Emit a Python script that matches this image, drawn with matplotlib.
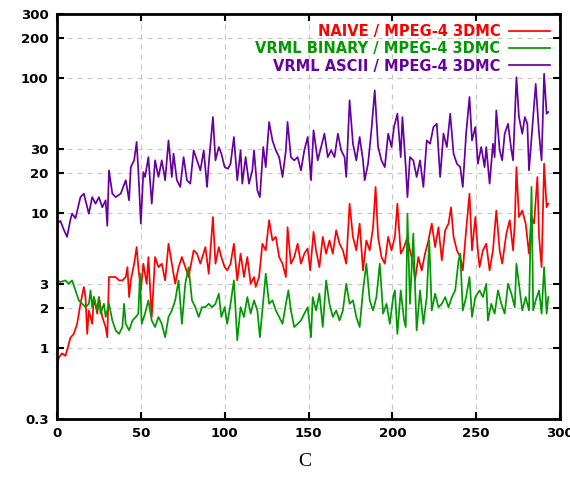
import numpy as np
import matplotlib.pyplot as plt
from matplotlib.ticker import FixedLocator, NullLocator

# ratios (log scale)
naive_x = [0, 1, 3, 5, 6, 8, 10, 12, 14, 16, 17, 18, 19, 21, 22, 24, 25, 27, 29, 30, 31,
           33, 35, 37, 39, 41, 42, 43, 44, 46, 47.5, 48.5, 50, 51.5, 53.5, 54.5, 56.5,
           58.5, 60.5, 62.5, 64.5, 66.5, 68.5, 70.5, 72.5, 74.5, 76.5, 78.5, 81.5,
           83.5, 85.5, 88.5, 90.5, 93, 94.5, 96.5, 98, 100, 101.5, 103.5, 105.5, 107.5,
           109.5, 111.5, 113.5, 115.5, 117.5, 118.5, 120.5, 122.5, 124.5, 126.5, 128.5,
           130.5, 132.5, 134.5, 136.5, 137.5, 139.5, 141.5, 143.5, 145.5, 147.5, 149.5,
           151, 153, 154.5, 156.5, 158.5, 160.5, 162.5, 164.5, 166.5, 168.5, 170.5,
           172.5, 174.5, 176.5, 178.5, 180.5, 182.5, 184.5, 186.5, 188.5, 190, 191.5,
           193.5, 195.5, 197.5, 199.5, 201.5, 203, 205, 207, 209, 210.5, 212.5, 213.5,
           215.5, 217.5, 219.5, 221.5, 223.5, 225.5, 227.5, 229.5, 231.5, 233.5, 235,
           236.5, 238.5, 240.5, 242, 244, 246, 247.5, 249.5, 251, 252, 254, 256, 258,
           260, 262, 264, 265.5, 268, 270, 272, 273, 274, 275.5, 277.5, 279.5, 281.5,
           283, 284.5, 286.5, 287.5, 289, 290.5, 292, 293]
naive_y = [0.72, 0.85, 0.92, 0.88, 0.97, 1.2, 1.28, 1.52, 2.14, 2.85, 2.4, 1.28, 1.91,
           1.52, 2.4, 1.81, 2.4, 1.71, 1.44, 1.21, 3.38, 3.38, 3.38, 3.19, 3.19, 3.38,
           4.0, 2.4, 3.19, 4.24, 5.63, 4.0, 2.69, 4.24, 3.01, 4.75, 1.71, 4.75, 4.0,
           4.24, 3.19, 5.96, 4.24, 3.01, 4.0, 4.75, 4.0, 3.38, 5.32, 5.03, 4.24, 5.63,
           3.57, 9.4, 4.24, 5.63, 4.75, 4.0, 3.78, 4.24, 5.96, 3.19, 5.03, 3.38, 4.75,
           3.01, 3.38, 2.85, 3.38, 5.96, 5.32, 8.9, 6.3, 6.7, 4.75, 4.24, 3.38, 7.9,
           4.24, 4.75, 5.96, 4.24, 5.03, 5.5, 3.78, 7.3, 5.32, 4.0, 6.7, 5.03, 6.3, 5.03,
           7.5, 5.96, 5.32, 4.24, 11.8, 6.7, 5.32, 8.4, 3.78, 6.3, 5.32, 7.9, 15.7, 6.7,
           4.75, 4.24, 6.7, 5.32, 6.7, 11.8, 5.03, 5.63, 6.7, 5.32, 4.24, 3.19, 4.75,
           3.78, 5.03, 6.3, 8.4, 5.63, 7.9, 4.49, 7.5, 8.4, 11.1, 6.7, 5.32, 4.75, 3.78,
           7.5, 14.0, 5.32, 9.4, 5.32, 4.0, 5.32, 5.96, 3.78, 5.32, 10.5, 5.32, 4.24,
           7.1, 8.9, 5.32, 8.4, 22.0, 9.4, 10.5, 8.4, 5.03, 9.4, 8.4, 18.6, 6.7, 4.0,
           23.3, 11.1, 11.8]

binary_x = [0, 2, 5, 7, 9, 11, 13, 15, 17, 19, 20, 21, 22, 24, 25, 26, 28, 29, 31, 33,
            35, 37, 39, 40, 41, 43, 45, 47, 48.5, 49.5, 50.5, 52.5, 54.5, 56.5, 58.5,
            60.5, 62.5, 64.5, 66.5, 68.5, 70.5, 72.5, 74.5, 76.5, 78.5, 80.5, 82.5,
            84.5, 86.5, 88.5, 90.5, 92.5, 94.5, 96.5, 98, 100, 101.5, 103.5, 105.5,
            107.5, 109.5, 111.5, 113.5, 115.5, 117.5, 119.5, 121, 122.5, 124.5, 126.5,
            128.5, 130.5, 132.5, 134.5, 136.5, 138, 139.5, 141.5, 143.5, 145.5, 147.5,
            149.5, 151.5, 152.5, 154.5, 156.5, 158.5, 160.5, 162.5, 164.5, 166.5, 168.5,
            170.5, 172.5, 174.5, 176.5, 178.5, 180.5, 182.5, 184.5, 186.5, 188.5, 190.5,
            192.5, 194.5, 196.5, 198.5, 200.5, 201.5, 203, 205, 207, 208, 209, 210.5,
            212.5, 213.5, 214.5, 216.5, 218.5, 220.5, 222, 223.5, 225.5, 227.5, 229.5,
            231.5, 233.5, 235.5, 237.5, 239.5, 240.5, 242, 244, 246, 247.5, 249.5, 252,
            254, 256, 257, 259, 261, 263, 265, 267, 269, 271, 273, 274, 275.5, 277.5,
            279.5, 281.5, 283, 284, 285.5, 287.5, 289, 290.5, 292, 293]
binary_y = [3.2, 3.1, 3.19, 3.01, 3.19, 2.69, 2.27, 2.14, 2.02, 2.14, 2.69, 2.02, 2.4,
            1.91, 2.4, 1.81, 2.14, 1.71, 2.14, 1.61, 1.36, 1.28, 1.44, 2.14, 1.52, 1.36,
            1.61, 1.71, 1.81, 3.6, 1.52, 1.81, 2.27, 1.61, 1.44, 1.71, 1.52, 1.21, 1.71,
            1.91, 2.27, 3.19, 1.52, 3.01, 4.0, 2.27, 2.02, 1.71, 2.02, 2.02, 2.14, 2.02,
            2.14, 2.54, 1.71, 2.02, 1.52, 2.14, 3.19, 1.15, 2.02, 1.71, 2.4, 1.81, 2.27,
            1.91, 1.21, 1.91, 3.57, 2.14, 2.27, 1.91, 1.71, 1.52, 2.14, 2.69, 1.91, 1.44,
            1.52, 1.61, 1.81, 2.02, 1.21, 2.4, 1.91, 2.54, 1.44, 3.19, 2.14, 1.71, 1.91,
            1.61, 1.91, 3.01, 2.14, 2.27, 1.71, 1.44, 2.69, 4.24, 2.27, 1.91, 2.4, 4.24,
            1.81, 2.14, 1.52, 2.4, 2.69, 1.28, 2.69, 1.61, 1.44, 9.95, 2.14, 7.1, 3.01,
            1.36, 2.69, 1.52, 2.4, 6.3, 1.91, 2.54, 2.02, 2.14, 2.4, 2.02, 2.4, 2.69, 4.49,
            5.03, 1.91, 2.4, 3.38, 1.71, 2.4, 2.69, 2.4, 3.01, 1.61, 2.14, 1.81, 2.69,
            2.14, 1.81, 3.01, 2.54, 2.02, 4.24, 3.01, 1.91, 2.4, 1.91, 15.7, 1.91, 2.27,
            2.69, 1.81, 4.0, 1.81, 2.4]

ascii_x = [0, 2, 4, 6, 8, 9, 11, 14, 16, 19, 21, 23, 25, 27, 29, 30, 31, 33, 35, 38,
           41, 43, 44, 46, 47.5, 48.5, 50, 51.5, 52.5, 54.5, 56.5, 58.5, 60.5, 62.5,
           64.5, 66.5, 68.5, 69.5, 71.5, 73.5, 75.5, 77.5, 79.5, 81.5, 83.5, 85.5,
           87.5, 89.5, 90.5, 93, 94.5, 96.5, 98, 100, 102, 103.5, 105.5, 107.5, 109.5,
           110.5, 112.5, 114.5, 116.5, 117.5, 119.5, 121, 123, 124.5, 126.5, 128.5,
           130.5, 132.5, 134.5, 136.5, 137.5, 139.5, 141.5, 143.5, 145.5, 147.5, 149.5,
           151.5, 153, 155.5, 157.5, 159.5, 161.5, 163.5, 165.5, 167.5, 169.5, 171.5,
           172.5, 174.5, 176.5, 178.5, 180.5, 182.5, 183.5, 185.5, 187.5, 189.5,
           191.5, 193.5, 195.5, 197.5, 199.5, 201, 203, 205, 206, 208, 209, 210.5,
           212.5, 214.5, 216.5, 218.5, 220.5, 222.5, 224.5, 226.5, 228.5, 230.5, 232.5,
           234.5, 236.5, 238.5, 240.5, 242, 244, 246, 247.5, 249.5, 251, 253, 255, 256,
           258, 260, 261, 262, 264, 265.5, 267, 269, 271, 272, 274, 275.5, 277.5, 279,
           280.5, 281.5, 283.5, 285.5, 287.5, 289, 290.5, 292, 293]
ascii_y = [8.4, 8.8, 7.6, 6.7, 9.0, 9.95, 9.2, 13.2, 14.0, 9.95, 13.2, 11.8, 13.2, 11.1,
           12.5, 8.1, 20.8, 14.0, 13.2, 14.0, 17.6, 12.5, 22.0, 24.7, 33.8, 20.8, 8.4,
           20.2, 18.6, 26.1, 11.8, 24.7, 18.6, 24.7, 17.6, 34.7, 18.6, 27.7, 17.6, 15.7,
           26.1, 17.6, 16.6, 29.3, 24.7, 20.8, 29.3, 15.7, 23.3, 51.7, 24.7, 31.0, 27.7,
           22.0, 21.4, 23.3, 36.8, 17.6, 29.3, 16.6, 26.1, 16.6, 20.8, 29.3, 14.8, 13.2,
           31.0, 22.0, 47.5, 34.7, 29.3, 26.1, 18.6, 29.3, 47.5, 26.1, 24.7, 26.1, 20.8,
           29.3, 36.8, 17.6, 41.2, 24.7, 31.0, 38.9, 26.1, 29.3, 26.1, 38.9, 29.3, 26.1,
           18.6, 68.7, 32.8, 24.7, 36.8, 24.7, 17.6, 23.3, 41.2, 81.5, 31.0, 24.7, 22.0,
           38.9, 31.0, 43.6, 54.7, 26.1, 51.7, 22.0, 13.2, 26.1, 24.7, 18.6, 24.7, 15.7,
           34.7, 32.8, 43.6, 46.1, 18.6, 38.9, 31.0, 54.7, 27.7, 23.3, 22.0, 15.7, 38.9,
           72.8, 34.7, 43.6, 23.3, 31.0, 22.0, 31.0, 16.6, 32.8, 26.1, 57.9, 29.3, 24.7,
           38.9, 46.1, 29.3, 24.7, 102, 51.7, 38.9, 51.7, 46.1, 20.8, 43.6, 91, 38.9,
           24.7, 108, 54.7, 56.3]

labels = ['NAIVE / MPEG-4 3DMC', 'VRML BINARY / MPEG-4 3DMC', 'VRML ASCII / MPEG-4 3DMC']
colors = ['#ff0000', '#009900', '#6600a0']
yticks = [0.3, 1, 2, 3, 10, 20, 30, 100, 200, 300]
ytick_labels = ['0.3', '1', '2', '3', '10', '20', '30', '100', '200', '300']
xticks = [0, 50, 100, 150, 200, 250, 300]

fig = plt.figure(figsize=(5.7, 4.8), dpi=100)
ax = fig.add_axes([0.1, 0.127, 0.8825, 0.844])

ax.plot(naive_x, naive_y, '-', color=colors[0], lw=1.25, label=labels[0])
ax.plot(binary_x, binary_y, '-', color=colors[1], lw=1.25, label=labels[1])
ax.plot(ascii_x, ascii_y, '-', color=colors[2], lw=1.25, label=labels[2])

ax.set_yscale('log')
ax.set_xlim(0, 300)
ax.set_ylim(0.3, 300)
ax.yaxis.set_major_locator(FixedLocator(yticks))
ax.yaxis.set_minor_locator(NullLocator())
ax.set_yticklabels(ytick_labels)
ax.set_xticks(xticks)

ax.grid(True, ls=(0, (4, 4)), color='#c8c8c8', lw=0.9)
ax.tick_params(direction='in', length=5, width=1.5, top=True, right=True,
               labelsize=9.5, pad=6)
for lab in ax.get_xticklabels() + ax.get_yticklabels():
    lab.set_fontweight('bold')
for sp in ax.spines.values():
    sp.set_linewidth(2)

leg = ax.legend(loc='upper right', frameon=False, markerfirst=False,
                labelcolor='linecolor', handlelength=2.8, handletextpad=0.6,
                labelspacing=0.15, borderaxespad=0.3,
                prop={'weight': 'bold', 'size': 10.5})

fig.text(0.535, 0.03, 'C', family='Liberation Serif', fontsize=14, ha='center')

fig.savefig('out.png', dpi=100)
